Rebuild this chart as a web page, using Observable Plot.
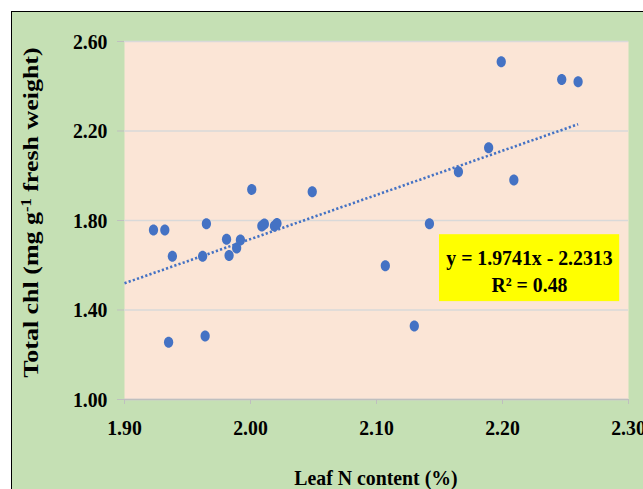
<!DOCTYPE html>
<html><head><meta charset="utf-8">
<script src="https://cdn.jsdelivr.net/npm/d3@7"></script>
<script src="https://cdn.jsdelivr.net/npm/@observablehq/plot@0.6"></script>
<style>
html,body{margin:0;padding:0;background:#fff;}
#wrap{position:relative;width:643px;height:489px;overflow:hidden;}
#panel{position:absolute;left:11px;top:11px;width:660px;height:500px;background:#C5E0B4;border-top:1.5px solid #000;border-left:1.5px solid #000;}
#chart{position:absolute;left:0;top:0;}
</style></head><body>
<div id="wrap"><div id="panel"></div><div id="chart"></div></div>
<script>
// Data
const leafN    = [1.923,1.932,1.938,1.935,1.965,1.962,1.964,1.981,1.983,1.989,1.992,2.001,2.009,2.011,2.019,2.021,2.049,2.107,2.130,2.142,2.165,2.189,2.199,2.209,2.247,2.260];
const totalChl = [1.758,1.758,1.640,1.256,1.786,1.640,1.284,1.716,1.644,1.677,1.713,1.939,1.775,1.784,1.775,1.787,1.929,1.598,1.329,1.785,2.018,2.125,2.509,1.981,2.430,2.420];
const xTicks = [1.90, 2.00, 2.10, 2.20, 2.30];
const yTicks = [1.00, 1.40, 1.80, 2.20, 2.60];
const slope = 1.9741, intercept = -2.2313;
const trendX = [1.90, 2.26];
const eqLines = ["y = 1.9741x - 2.2313", "R² = 0.48"];
const eqTextX = [2.2214, 2.2214];
const eqTextY = [1.632, 1.513];
const eqBox = [{x1: 2.150, x2: 2.293, y1: 1.4375, y2: 1.7366}];
const xTitle = "Leaf N content (%)";

const points = leafN.map((x, i) => ({x, y: totalChl[i]}));
const trend = trendX.map(x => ({x, y: slope * x + intercept}));
const eqData = eqLines.map((t, i) => ({t, x: eqTextX[i], y: eqTextY[i]}));

const ellipse = {draw(ctx, size) {
  const r = Math.sqrt(size / Math.PI), rx = r * 0.84, ry = r, k = 0.5523;
  ctx.moveTo(rx, 0);
  ctx.bezierCurveTo(rx, ry * k, rx * k, ry, 0, ry);
  ctx.bezierCurveTo(-rx * k, ry, -rx, ry * k, -rx, 0);
  ctx.bezierCurveTo(-rx, -ry * k, -rx * k, -ry, 0, -ry);
  ctx.bezierCurveTo(rx * k, -ry, rx, -ry * k, rx, 0);
  ctx.closePath();
}};

const FONT = "'Liberation Serif', 'Times New Roman', serif";
const chart = Plot.plot({
  width: 643, height: 489,
  marginLeft: 124, marginRight: 15, marginTop: 41, marginBottom: 90,
  style: {background: "transparent", fontFamily: FONT, fontWeight: "bold", fontSize: "22px", color: "#000", overflow: "visible"},
  x: {domain: [1.9, 2.3]},
  y: {domain: [1.0, 2.6]},
  marks: [
    Plot.frame({fill: "#FBE5D6", stroke: null}),
    Plot.gridY(yTicks, {stroke: "#D9D9D9", strokeOpacity: 1, strokeWidth: 1.5}),
    Plot.ruleY([yTicks[0]], {stroke: "#BFBFBF", strokeWidth: 1.5}),
    Plot.axisX(xTicks, {tickSize: 5, tickPadding: 15, stroke: "#BFBFBF", fill: "#000", tickFormat: d3.format(".2f"), label: null}),
    Plot.axisY(yTicks, {tickSize: 7, tickPadding: 10, stroke: "#BFBFBF", fill: "#000", tickFormat: d3.format(".2f"), label: null}),
    Plot.line(trend, {x: "x", y: "y", stroke: "#4472C4", strokeWidth: 2.6, strokeDasharray: "2.2,2.2", strokeLinecap: "butt"}),
    Plot.dot(points, {x: "x", y: "y", r: 5.5, fill: "#4472C4", stroke: null, symbol: ellipse}),
    Plot.rect(eqBox, {x1: "x1", x2: "x2", y1: "y1", y2: "y2", fill: "#FFFF00"}),
    Plot.text(eqData, {x: "x", y: "y", text: "t", fontSize: 22, fontWeight: "bold", fill: "#000"})
  ]
});
document.getElementById("chart").appendChild(chart);

const svg = d3.select(chart);
const xs = chart.scale("x").range;
// x-axis title
svg.append("text")
  .attr("x", (xs[0] + xs[1]) / 2).attr("y", 485)
  .attr("text-anchor", "middle")
  .style("font-family", FONT).style("font-weight", "bold").style("font-size", "22px")
  .attr("fill", "#000")
  .text(xTitle);

// compress horizontal text (reference image is vertically stretched)
svg.selectAll("text").each(function() {
  const len = this.getComputedTextLength();
  if (len > 0) {
    this.setAttribute("textLength", (len * 0.9).toFixed(1));
    this.setAttribute("lengthAdjust", "spacingAndGlyphs");
  }
});

// y-axis title (rotated, stretched along its length)
const yt = svg.append("text")
  .attr("transform", "translate(38,212.5) rotate(-90)")
  .attr("text-anchor", "middle")
  .style("font-family", FONT).style("font-weight", "bold").style("font-size", "22px")
  .attr("fill", "#000");
yt.append("tspan").text("Total chl (mg g");
yt.append("tspan").attr("baseline-shift", "super").style("font-size", "14px").text("-1");
yt.append("tspan").text(" fresh weight)");
const ylen = yt.node().getComputedTextLength();
yt.attr("textLength", (ylen * 1.18).toFixed(1)).attr("lengthAdjust", "spacingAndGlyphs");
</script>
</body></html>
